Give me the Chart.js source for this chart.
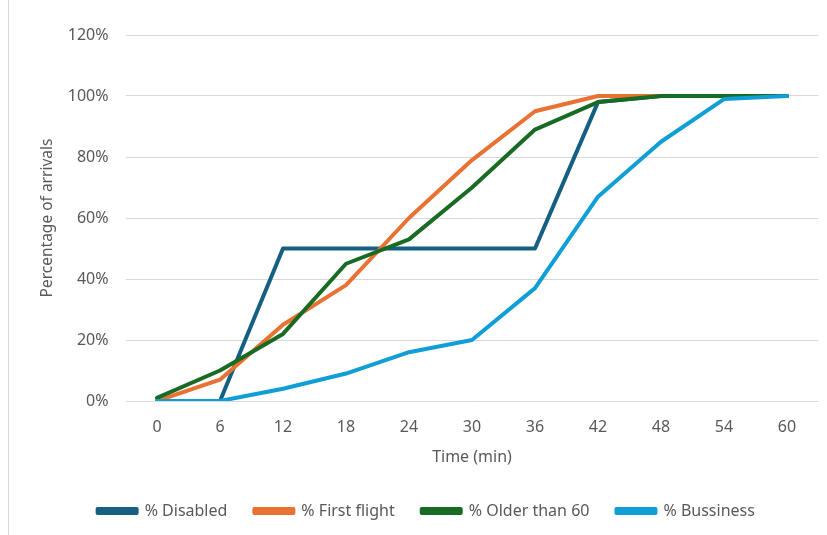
<!DOCTYPE html>
<html lang="en">
<head>
    <meta charset="UTF-8">
    <title>Percentage of arrivals</title>
    <style>
        html, body {
            margin: 0;
            padding: 0;
            background: #ffffff;
        }
        #wrap {
            position: relative;
            width: 827px;
            height: 535px;
        }
        #frameLine {
            position: absolute;
            left: 8px;
            top: 0;
            width: 1px;
            height: 535px;
            background: #d9d9d9;
        }
        canvas {
            position: absolute;
            left: 0;
            top: 0;
        }
    </style>
    <script src="https://cdn.jsdelivr.net/npm/chart.js"></script>
</head>
<body>
    <div id="wrap">
        <div id="frameLine"></div>
        <canvas id="arrivalsChart" width="827" height="535"></canvas>
    </div>

    <script>
        // data
        const minutes = ['0', '6', '12', '18', '24', '30', '36', '42', '48', '54', '60'];
        const disabled = [0, 0, 50, 50, 50, 50, 50, 98, 100, 100, 100];
        const firstFlight = [0, 7, 25, 38, 60, 79, 95, 100, 100, 100, 100];
        const olderThan60 = [1, 10, 22, 45, 53, 70, 89, 98, 100, 100, 100];
        const bussiness = [0, 0, 4, 9, 16, 20, 37, 67, 85, 99, 100];
        const yTicks = [0, 20, 40, 60, 80, 100, 120];

        const fontFamily = "'Noto Sans', sans-serif";
        const textColor = '#595959';
        const gridColor = '#d9d9d9';

        function series(label, data, color, order) {
            return {
                label: label,
                data: data,
                borderColor: color,
                backgroundColor: color,
                borderWidth: 4,
                pointRadius: 0,
                tension: 0,
                borderCapStyle: 'round',
                borderJoinStyle: 'round',
                order: order
            };
        }

        const ctx = document.getElementById('arrivalsChart').getContext('2d');
        new Chart(ctx, {
            type: 'line',
            data: {
                labels: minutes,
                datasets: [
                    series('% Disabled', disabled, '#156082', 4),
                    series('% First flight', firstFlight, '#e97132', 3),
                    series('% Older than 60', olderThan60, '#196b24', 2),
                    series('% Bussiness', bussiness, '#0f9ed5', 1)
                ]
            },
            options: {
                responsive: false,
                animation: false,
                layout: {
                    padding: { left: 34, right: 8.5, top: 35, bottom: 6 }
                },
                plugins: {
                    tooltip: { enabled: false },
                    legend: {
                        position: 'bottom',
                        labels: {
                            boxWidth: 39,
                            boxHeight: 4,
                            padding: 27,
                            color: textColor,
                            font: { family: fontFamily, size: 16 },
                            sort: (a, b) => a.datasetIndex - b.datasetIndex
                        }
                    }
                },
                scales: {
                    x: {
                        offset: true,
                        grid: { display: false },
                        border: { display: false },
                        ticks: {
                            color: textColor,
                            padding: 9,
                            maxRotation: 0,
                            font: { family: fontFamily, size: 16 }
                        },
                        title: {
                            display: true,
                            text: 'Time (min)',
                            color: textColor,
                            padding: { top: 4, bottom: 9 },
                            font: { family: fontFamily, size: 16 }
                        },
                        afterFit: (scale) => { scale.height = 75; }
                    },
                    y: {
                        min: 0,
                        max: 120,
                        afterBuildTicks: (scale) => {
                            scale.ticks = yTicks.map(v => ({ value: v }));
                        },
                        grid: {
                            color: gridColor,
                            lineWidth: 1,
                            drawTicks: false
                        },
                        border: { display: false },
                        ticks: {
                            color: textColor,
                            padding: 17,
                            font: { family: fontFamily, size: 16 },
                            callback: (v) => v + '%'
                        },
                        title: {
                            display: true,
                            text: 'Percentage of arrivals',
                            color: textColor,
                            padding: { top: 4, bottom: 4 },
                            font: { family: fontFamily, size: 15.5 }
                        },
                        afterFit: (scale) => { scale.width = 91.5; }
                    }
                }
            }
        });
    </script>
</body>
</html>
